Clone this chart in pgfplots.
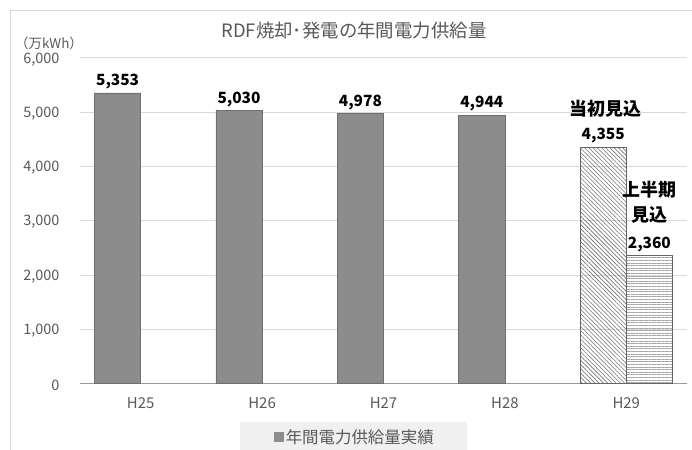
\documentclass[border=0pt]{standalone}
\usepackage{fontspec}
\setmainfont{Noto Sans CJK JP}
\usepackage{pgfplots}
\pgfplotsset{compat=1.18}
\usetikzlibrary{patterns.meta}
\definecolor{barg}{HTML}{8C8C8C}
\definecolor{bard}{HTML}{6F6F6F}
\definecolor{txt}{HTML}{595959}
\definecolor{gridc}{HTML}{D9D9D9}
\begin{document}
\begin{tikzpicture}
\useasboundingbox (0bp,0bp) rectangle (692bp,450bp);
\fill[white] (0bp,0bp) rectangle (692bp,450bp);
\draw[gridc, line width=1bp] (10bp,-5bp) -- (10bp,439bp) -- (700bp,439bp);
\fill[black!6] (240bp,-5bp) rectangle (467bp,28bp);
\node[text=txt, font=\fontsize{18.5}{22}\selectfont] at (354bp,419bp) {RDF焼却･発電の年間電力供給量};
\node[text=txt, font=\fontsize{13.5}{16}\selectfont] at (49bp,407bp) {（万kWh）};
\begin{axis}[
  at={(80bp,66.5bp)}, anchor=south west,
  scale only axis, width=607bp, height=325.8bp,
  xmin=-0.5, xmax=4.5, ymin=0, ymax=6000,
  ybar, bar width=0.38,
  xtick={0,1,2,3,4}, xticklabels={H25,H26,H27,H28,H29},
  ytick={0,1000,2000,3000,4000,5000,6000},
  ymajorgrids, grid style={gridc, line width=0.8bp},
  axis x line*=bottom, axis y line*=left,
  x axis line style={draw=black!40, line width=1bp, -},
  y axis line style={draw=none},
  major tick length=0pt,
  /pgf/number format/1000 sep={,},
  /pgf/number format/assume math mode=true,
  tick label style={text=txt, font=\fontsize{14.5}{17}\selectfont},
  yticklabel style={xshift=-17bp, yshift=-1.5bp},
  xticklabel style={yshift=-11bp, font=\fontsize{15}{17}\selectfont},
  nodes near coords style={font=\bfseries\fontsize{15.5}{18}\selectfont, text=black, /pgf/number format/assume math mode=true},
  legend style={at={(0.453,-0.164)}, anchor=center, draw=none, fill=none,
     font=\fontsize{16.5}{19}\selectfont, text=txt},
  legend image code/.code={\fill[barg] (0bp,-4.5bp) rectangle (9bp,4.5bp);},
]
\addplot[fill=barg, draw=bard, line width=0.6bp, bar shift=-0.19, nodes near coords]
  coordinates {(0,5353) (1,5030) (2,4978) (3,4944)};
\addlegendentry{年間電力供給量実績}
\addplot[forget plot, draw=black!60, line width=0.6bp, bar shift=-0.19,
  pattern={Lines[angle=-45,distance=3bp,line width=0.6bp]}, pattern color=black!55, nodes near coords]
  coordinates {(4,4355)};
\addplot[forget plot, draw=black!60, line width=0.6bp, bar shift=0.19,
  pattern={Lines[angle=0,distance=2.6bp,line width=0.5bp]}, pattern color=black!35, nodes near coords]
  coordinates {(4,2360)};
\node[font=\bfseries\fontsize{18}{21}\selectfont] at (axis cs:3.83,5060) {当初見込};
\node[font=\bfseries\fontsize{18}{21}\selectfont] at (axis cs:4.19,3564) {上半期};
\node[font=\bfseries\fontsize{18}{21}\selectfont] at (axis cs:4.19,3103) {見込};
\end{axis}
\end{tikzpicture}
\end{document}
